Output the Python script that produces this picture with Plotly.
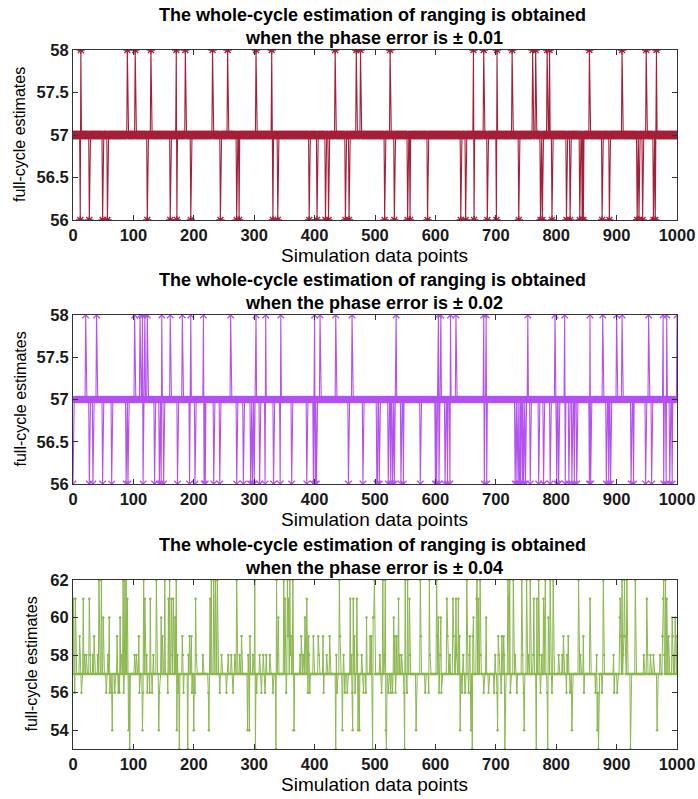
import numpy as np
import plotly.graph_objects as go

# ---------------- data ----------------
x_points = list(range(0, 1001))
base_value = 57

# panel 1 (phase error ±0.01): indices where estimate is 58 / 56
p1_idx_58 = [13, 90, 103, 129, 171, 186, 231, 256, 303, 329, 434, 469, 476, 525, 663,
             680, 702, 727, 761, 766, 785, 789, 855, 909, 949, 966]
p1_idx_56 = [12, 27, 49, 57, 123, 161, 172, 195, 244, 271, 275, 331, 339, 391, 404, 418,
             423, 451, 457, 516, 532, 554, 558, 587, 642, 650, 664, 686, 701, 738, 774,
             777, 793, 817, 823, 839, 843, 845, 876, 888, 934, 937, 943, 961, 964]

# panel 2 (phase error ±0.02)
p2_idx_58 = [21, 39, 102, 111, 115, 119, 123, 147, 161, 181, 195, 216, 261, 303, 319, 344,
             400, 409, 435, 462, 535, 605, 609, 625, 634, 680, 684, 753, 798, 814, 856,
             877, 900, 909, 953, 977, 983, 1000]
p2_idx_56 = [0, 27, 33, 49, 64, 88, 91, 116, 135, 143, 146, 150, 173, 193, 202, 217, 219,
             233, 243, 271, 282, 294, 297, 300, 309, 318, 332, 343, 362, 387, 398, 401,
             403, 456, 480, 503, 504, 507, 522, 526, 529, 532, 543, 547, 575, 600, 602,
             606, 616, 620, 624, 681, 685, 732, 735, 738, 739, 741, 744, 746, 749, 757,
             771, 779, 790, 801, 804, 815, 821, 826, 830, 834, 855, 857, 883, 887, 890,
             924, 928, 948, 958, 978, 982, 988, 992]

# panel 3 (phase error ±0.04): indices per estimate level
p3_idx_62 = [43, 47, 83, 86, 88, 117, 138, 152, 160, 171, 229, 233, 236, 239, 271, 301, 337,
             349, 355, 359, 364, 441, 499, 513, 517, 550, 554, 575, 590, 602, 652, 669, 674,
             720, 723, 729, 743, 751, 757, 771, 782, 790, 795, 837, 878, 909, 913, 917, 931,
             978, 981]
p3_idx_61 = [1, 4, 17, 27, 90, 119, 128, 158, 163, 166, 203, 227, 351, 357, 387, 459, 464,
             470, 539, 557, 619, 629, 634, 638, 668, 671, 721, 763, 768, 779, 856, 906, 950,
             977, 983]
p3_idx_60 = [50, 60, 78, 146, 169, 340, 384, 486, 497, 498, 531, 605, 609, 663, 684, 781,
             787, 905, 992, 997]
p3_idx_59 = [11, 35, 73, 109, 148, 181, 193, 196, 279, 293, 356, 361, 378, 390, 398, 406,
             414, 425, 442, 466, 492, 494, 533, 536, 576, 603, 620, 630, 640, 657, 662, 704,
             710, 713, 812, 820, 845, 907, 912, 914, 976, 986, 993, 1000]
p3_idx_58 = [19, 22, 28, 33, 41, 58, 80, 102, 105, 122, 133, 164, 173, 182, 191, 204, 215,
             246, 257, 262, 268, 276, 290, 298, 309, 315, 320, 326, 339, 360, 376, 381, 391,
             407, 420, 436, 448, 461, 471, 478, 508, 516, 541, 544, 558, 591, 608, 624, 635,
             646, 656, 675, 699, 705, 714, 732, 744, 754, 762, 772, 776, 804, 810, 818, 840,
             867, 879, 895, 911, 945, 951, 956, 961, 972, 979, 995]
p3_idx_56 = [3, 14, 55, 61, 64, 69, 75, 77, 84, 110, 116, 123, 127, 131, 143, 157, 174, 183,
             197, 202, 224, 243, 254, 265, 304, 312, 318, 331, 353, 389, 392, 415, 437, 450,
             454, 462, 467, 481, 485, 511, 522, 526, 529, 534, 548, 553, 583, 589, 606, 610,
             644, 649, 655, 658, 680, 688, 697, 702, 709, 724, 735, 746, 774, 785, 793, 817,
             823, 846, 865, 869, 876, 896, 901]
p3_idx_54 = [65, 92, 115, 142, 172, 200, 225, 289, 292, 365, 366, 446, 463, 472, 474, 518,
             568, 641, 659, 703, 747, 826, 868, 967]
p3_idx_53 = [94, 176, 190, 302, 336, 435, 496, 519, 549, 661, 715, 767, 786, 870, 923]

x_tick_values = [0, 100, 200, 300, 400, 500, 600, 700, 800, 900, 1000]
y1_ticks = [56, 56.5, 57, 57.5, 58]
y2_ticks = [56, 56.5, 57, 57.5, 58]
y3_ticks = [54, 56, 58, 60, 62]

title_line1 = "The whole-cycle estimation of ranging is obtained"
title_line2 = ["when the phase error is \u00b1 0.01",
               "when the phase error is \u00b1 0.02",
               "when the phase error is \u00b1 0.04"]
x_title = "Simulation data points"
y_title = "full-cycle estimates"


def build(levels):
    y = [base_value] * len(x_points)
    for val, idxs in levels:
        for i in idxs:
            y[i] = val
    return y


y1 = build([(58, p1_idx_58), (56, p1_idx_56)])
y2 = build([(58, p2_idx_58), (56, p2_idx_56)])
y3 = build([(62, p3_idx_62), (61, p3_idx_61), (60, p3_idx_60), (59, p3_idx_59),
            (58, p3_idx_58), (56, p3_idx_56), (54, p3_idx_54), (53, p3_idx_53)])

# ---------------- figure ----------------
W, H = 698, 799
FONT = "Arial, 'Liberation Sans', sans-serif"
c1 = "#A2142F"
c2 = "#B048F2"
c3 = "#77AC30"

fig = go.Figure()
fig.add_trace(go.Scatter(x=x_points, y=y1, mode="lines+markers", xaxis="x", yaxis="y",
                         line=dict(color=c1, width=1.1),
                         marker=dict(symbol="asterisk-open", size=7, color=c1,
                                     line=dict(color=c1, width=1.3)),
                         opacity=0.95, showlegend=False))
fig.add_trace(go.Scatter(x=x_points, y=y2, mode="lines+markers", xaxis="x2", yaxis="y2",
                         line=dict(color=c2, width=1.1),
                         marker=dict(symbol="x-thin-open", size=6.5, color=c2,
                                     line=dict(color=c2, width=1.3)),
                         opacity=0.95, showlegend=False))
fig.add_trace(go.Scatter(x=x_points, y=y3, mode="lines+markers", xaxis="x3", yaxis="y3",
                         line=dict(color=c3, width=1),
                         marker=dict(symbol="circle", size=2.5, color=c3),
                         opacity=0.85, showlegend=False))


def px_x(p):
    return p / W


def px_y(p):
    return 1 - p / H


xdom = [px_x(73), px_x(677)]
panels = [(50, 220), (315, 484), (580, 749)]
yranges = [[56, 58], [56, 58], [53, 62]]
yticks = [y1_ticks, y2_ticks, y3_ticks]
ytitle_x = [20, 20, 31]

axis_common = dict(showgrid=False, zeroline=False, showline=True, mirror="ticks",
                   linecolor="#333333", linewidth=1, ticks="inside", ticklen=5,
                   tickcolor="#333333",
                   tickfont=dict(family=FONT, size=16.5, color="#1a1a1a", weight="bold"))

layout = dict(width=W, height=H,
              margin=dict(l=0, r=0, t=0, b=0, autoexpand=False),
              paper_bgcolor="white", plot_bgcolor="white", showlegend=False)
annotations = []
for k, (top, bot) in enumerate(panels):
    sx = "" if k == 0 else str(k + 1)
    layout["xaxis" + sx] = dict(domain=xdom, anchor="y" + sx, range=[0, 1000],
                                tickvals=x_tick_values, automargin=False, **axis_common)
    layout["yaxis" + sx] = dict(domain=[px_y(bot), px_y(top)], anchor="x" + sx,
                                range=yranges[k], tickvals=yticks[k], automargin=False,
                                ticktext=[("%g" % v) for v in yticks[k]], **axis_common)
    annotations.append(dict(text="<b>" + title_line1 + "</b>", x=px_x(372), y=px_y(top - 35),
                            xref="paper", yref="paper", showarrow=False, xanchor="center",
                            yanchor="middle", font=dict(family=FONT, size=18, color="black")))
    annotations.append(dict(text="<b>" + title_line2[k] + "</b>", x=px_x(374), y=px_y(top - 12),
                            xref="paper", yref="paper", showarrow=False, xanchor="center",
                            yanchor="middle", font=dict(family=FONT, size=18, color="black")))
    annotations.append(dict(text=x_title, x=px_x(374), y=px_y(bot + 35),
                            xref="paper", yref="paper", showarrow=False, xanchor="center",
                            yanchor="middle", font=dict(family=FONT, size=19, color="black")))
    annotations.append(dict(text=y_title, x=px_x(ytitle_x[k]), y=px_y((top + bot) / 2),
                            xref="paper", yref="paper", showarrow=False, xanchor="center",
                            yanchor="middle", textangle=-90,
                            font=dict(family=FONT, size=16, color="black")))
layout["annotations"] = annotations
fig.update_layout(**layout)

fig.write_html("out.html", config={"displayModeBar": False},
               post_script="document.body.style.margin='0';document.body.style.overflow='hidden';")
